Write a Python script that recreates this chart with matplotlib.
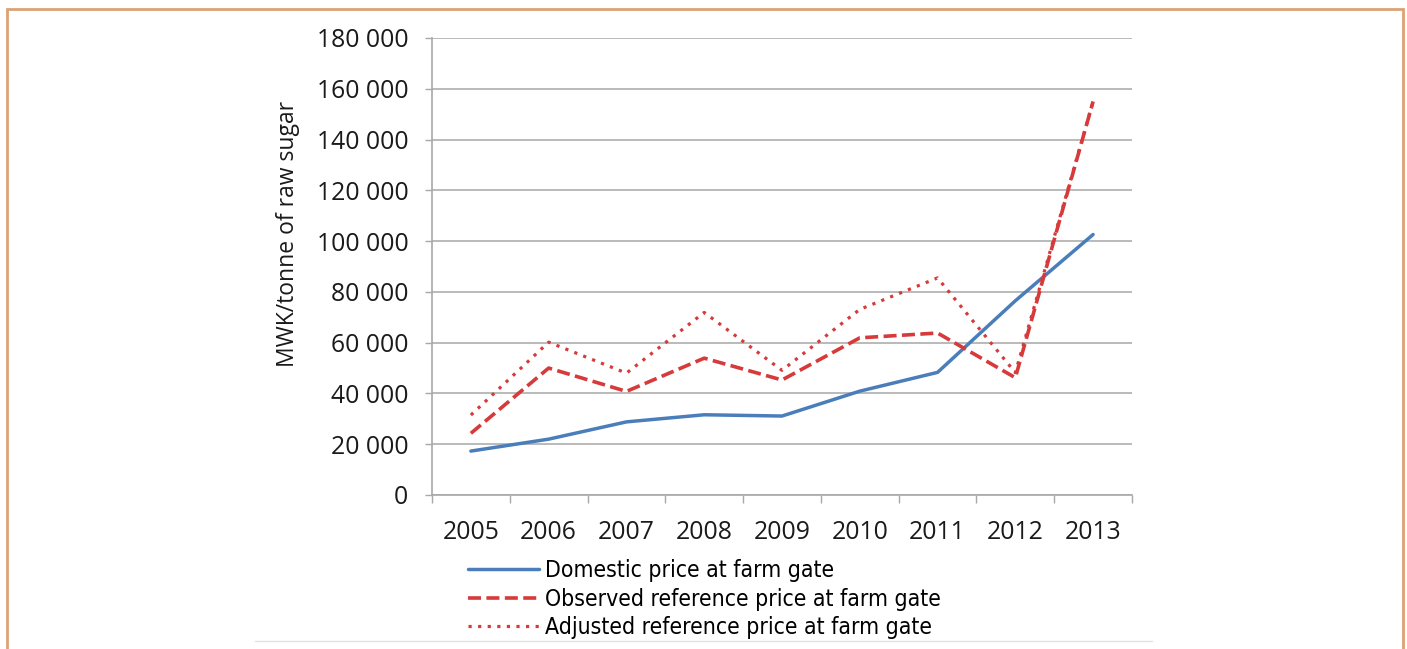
import matplotlib
matplotlib.use("Agg")
import matplotlib.pyplot as plt
from matplotlib.patches import Rectangle
from matplotlib.lines import Line2D
from matplotlib.ticker import FuncFormatter, FixedLocator
from matplotlib import font_manager

years = ["2005", "2006", "2007", "2008", "2009", "2010", "2011", "2012", "2013"]
domestic = [17300, 22000, 28800, 31600, 31100, 40900, 48300, 76500, 102600]
observed = [24300, 50000, 40800, 53900, 45300, 61900, 63800, 46200, 155000]
adjusted = [31500, 60200, 48000, 71900, 49100, 73100, 85500, 48200, 155000]
series_labels = [
    "Domestic price at farm gate",
    "Observed reference price at farm gate",
    "Adjusted reference price at farm gate",
]
y_ticks = [0, 20000, 40000, 60000, 80000, 100000, 120000, 140000, 160000, 180000]

W, H = 1407, 649
fig = plt.figure(figsize=(W / 100, H / 100), dpi=100)
fig.patch.set_facecolor("white")

# outer frame
fig.patches.append(Rectangle((7 / W, -0.05), (1403 - 7) / W, 1.05 - 9 / H,
                             transform=fig.transFigure, fill=False,
                             edgecolor="#dca276", linewidth=2.0))
# thin rule under the legend
fig.lines.append(Line2D([255 / W, 1152 / W], [1 - 641 / H, 1 - 641 / H],
                        transform=fig.transFigure, color="#e2e2e2", linewidth=1.0))

ax = fig.add_axes([432 / W, 1 - 495 / H, (1132 - 432) / W, (495 - 38) / H])

x = list(range(len(years)))
blue = "#4a7ebb"
red = "#d63a3a"
l1, = ax.plot(x, domestic, color=blue, lw=2.5, solid_capstyle="round", zorder=3)
l2, = ax.plot(x, observed, color=red, lw=2.6, dashes=(3.6, 1.5), zorder=3)
l3, = ax.plot(x, adjusted, color=red, lw=2.3, dashes=(1.0, 2.0), zorder=3)

ax.set_xlim(-0.5, len(years) - 0.5)
ax.set_ylim(0, 180000)

tick_font = dict(family=["Open Sans", "DejaVu Sans"], size=17.8, color="#1a1a1a")

ax.set_yticks(y_ticks)
ax.yaxis.set_major_formatter(FuncFormatter(lambda v, p: f"{int(v):,}".replace(",", " ")))
for lab in ax.get_yticklabels():
    lab.set_fontfamily(tick_font["family"])
    lab.set_fontsize(tick_font["size"])
    lab.set_color(tick_font["color"])
ax.tick_params(axis="y", length=5, width=1, color="#a8a8a8", pad=12)

ax.set_xticks(x)
ax.set_xticklabels(years, **tick_font)
ax.tick_params(axis="x", which="major", length=0, pad=18)
ax.xaxis.set_minor_locator(FixedLocator([i - 0.5 for i in range(len(years) + 1)]))
ax.tick_params(axis="x", which="minor", length=6, width=1, color="#a8a8a8")

ax.grid(axis="y", color="#b4b4b4", linewidth=1.3)
ax.set_axisbelow(True)
for side in ["top", "right"]:
    ax.spines[side].set_visible(False)
for side in ["left", "bottom"]:
    ax.spines[side].set_color("#a8a8a8")
    ax.spines[side].set_linewidth(1.2)

ax.set_ylabel("MWK/tonne of raw sugar", family=["Open Sans", "DejaVu Sans"],
              fontsize=16.5, color="#1a1a1a")
ax.yaxis.set_label_coords(-0.188, 0.571)

leg_prop = font_manager.FontProperties(family=["DejaVu Sans"], size=16.5,
                                       stretch="condensed")
fig.legend([l1, l2, l3], series_labels, loc="upper left",
           bbox_to_anchor=(468 / W, 1 - 559 / H), frameon=False,
           prop=leg_prop,
           handlelength=3.1, handletextpad=0.25, labelspacing=0.25,
           borderaxespad=0, borderpad=0)

fig.savefig("out.png", dpi=100)
